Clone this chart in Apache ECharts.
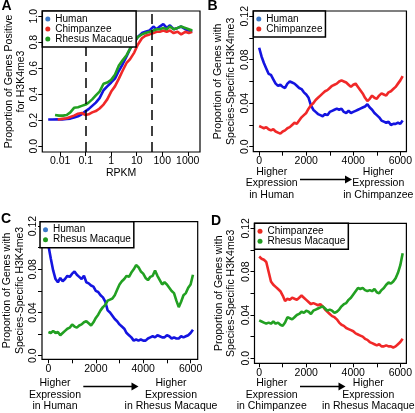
<!DOCTYPE html>
<html><head><meta charset="utf-8">
<script src="https://cdn.jsdelivr.net/npm/echarts@6/dist/echarts.min.js"></script>
<style>html,body{margin:0;padding:0;background:#fff}#c{width:415px;height:413px}</style>
</head><body><div id="c"></div><script>
// ---------- Panel A data (RPKM vs proportion positive) ----------
const rpkmHumanA = [0.0034,0.005,0.008,0.012,0.018,0.025,0.035,0.05,0.07,0.1,0.13,0.18,0.25,0.35,0.5,0.7,1,1.4,2,2.8,4,5.5,8,11,16,22,32,45,60,80,110,150,200,280,400,550,800,1100,1500];
const propHumanA = [.205,.205,.206,.205,.21,.212,.22,.23,.245,.27,.285,.31,.335,.37,.43,.46,.49,.52,.58,.63,.69,.75,.80,.84,.87,.88,.89,.92,.90,.92,.94,.91,.93,.90,.91,.92,.90,.89,.88];
const rpkmChimpA = [0.008,0.012,0.018,0.025,0.035,0.05,0.07,0.1,0.13,0.18,0.25,0.35,0.5,0.7,1,1.4,2,2.8,4,5.5,8,11,16,22,32,45,60,80,110,150,200,280,400,550,800,1100,1500];
const propChimpA = [.205,.21,.215,.225,.235,.25,.255,.24,.245,.26,.27,.29,.32,.36,.42,.46,.52,.58,.64,.67,.72,.78,.83,.85,.86,.87,.88,.88,.89,.88,.89,.87,.88,.86,.88,.87,.88];
const rpkmRhesusA = [0.0063,0.009,0.013,0.018,0.025,0.035,0.05,0.07,0.1,0.13,0.18,0.25,0.35,0.5,0.7,1,1.4,2,2.8,4,5.5,8,11,16,22,32,45,60,80,110,150,200,280,400,550,800,1100,1500];
const propRhesusA = [.24,.235,.235,.24,.26,.295,.30,.31,.32,.335,.36,.39,.42,.48,.49,.51,.55,.62,.66,.70,.75,.80,.84,.86,.87,.88,.89,.90,.90,.91,.90,.92,.90,.91,.92,.91,.90,.89];
const thresholdsRPKM = [0.1, 40];
const ticksA_x = [0.01,0.1,1,10,100,1000];
const ticksA_y = [0,0.2,0.4,0.6,0.8,1.0];

// ---------- Panels B, C, D (rank vs proportion species-specific) ----------
const rank = [0,100,200,300,400,500,600,700,800,900,1000,1100,1200,1300,1400,1500,1600,1700,1800,1900,2000,2100,2200,2300,2400,2500,2600,2700,2800,2900,3000,3100,3200,3300,3400,3500,3600,3700,3800,3900,4000,4100,4200,4300,4400,4500,4600,4700,4800,4900,5000,5100,5200,5300,5400,5500,5600,5700,5800,5900,6000,6100];
const humanB = [.091,.083,.077,.072,.067,.066,.062,.058,.056,.057,.055,.054,.058,.060,.059,.058,.056,.054,.053,.050,.048,.045,.038,.034,.032,.030,.029,.028,.030,.029,.032,.033,.034,.035,.034,.035,.032,.031,.033,.031,.032,.033,.034,.035,.036,.037,.039,.036,.034,.031,.029,.027,.024,.023,.022,.023,.020,.021,.021,.022,.021,.024];
const chimpB = [.019,.018,.017,.018,.016,.015,.016,.014,.013,.012,.014,.015,.017,.018,.020,.022,.021,.024,.027,.029,.031,.035,.038,.040,.043,.045,.047,.049,.051,.052,.054,.056,.057,.058,.060,.061,.060,.059,.057,.055,.057,.058,.055,.052,.049,.045,.042,.044,.047,.045,.044,.047,.049,.048,.047,.050,.051,.053,.055,.058,.061,.065];
const humanC = [.102,.090,.079,.071,.068,.072,.069,.071,.074,.073,.076,.078,.075,.073,.071,.074,.068,.067,.065,.064,.060,.059,.056,.054,.050,.042,.040,.037,.034,.032,.029,.027,.025,.021,.019,.017,.014,.015,.014,.015,.014,.014,.016,.017,.018,.017,.019,.018,.017,.017,.019,.018,.016,.017,.016,.016,.018,.017,.018,.019,.021,.024];
const rhesusC = [.022,.021,.023,.021,.022,.019,.021,.023,.025,.026,.029,.027,.026,.028,.029,.031,.032,.030,.028,.031,.035,.038,.042,.045,.047,.051,.052,.053,.056,.061,.066,.069,.071,.074,.073,.077,.080,.084,.082,.078,.076,.072,.070,.073,.074,.079,.074,.070,.066,.068,.066,.063,.060,.058,.051,.045,.050,.056,.058,.063,.066,.075];
const chimpD = [.094,.092,.091,.089,.080,.071,.068,.066,.064,.062,.058,.053,.055,.054,.056,.055,.054,.056,.058,.056,.054,.052,.050,.051,.050,.049,.050,.048,.045,.043,.041,.039,.038,.036,.033,.031,.030,.028,.027,.026,.025,.023,.022,.021,.020,.018,.017,.015,.014,.013,.012,.013,.011,.011,.012,.011,.011,.010,.011,.013,.015,.018];
const rhesusD = [.035,.034,.033,.032,.033,.032,.034,.032,.033,.031,.030,.033,.038,.037,.036,.038,.040,.041,.043,.042,.044,.043,.041,.044,.045,.046,.047,.048,.046,.044,.045,.044,.042,.043,.045,.048,.050,.051,.054,.056,.059,.062,.065,.064,.065,.063,.062,.063,.062,.064,.061,.060,.063,.065,.068,.070,.069,.071,.074,.079,.086,.097];
const ticksRank = [0,1000,2000,3000,4000,5000,6000];
const labelsRank = [0,2000,4000,6000];
const ticksProp = [0,0.02,0.04,0.06,0.08,0.10,0.12];
const labelsProp = [0,0.04,0.08,0.12];

const F = 'Liberation Sans, Arial, sans-serif';
const LINE = {human:'#1414e0', chimp:'#f02828', rhesus:'#22a022'};
const DOT = {human:'#3a78c8', chimp:'#e8281e', rhesus:'#1e9a1e'};

const zip = (xs, ys) => xs.map((x,i)=>[x, ys[i]]);
const lg = v => Math.log10(v);

function xAxisCfg(idx, min, max, ticks, labels, fmt, name){
  return {gridIndex: idx, type:'value', min, max, name: name||'', nameLocation:'middle', nameGap:14.5,
    nameTextStyle:{fontSize:10.5, color:'#000', fontFamily:F},
    axisLine:{show:false, onZero:false}, splitLine:{show:false},
    axisTick:{show:true, length:4, customValues: ticks, lineStyle:{color:'#000', width:1}},
    axisLabel:{show:true, customValues: labels, formatter: fmt, margin:4, fontSize:10.5, color:'#000', fontFamily:F}};
}
function yAxisCfg(idx, min, max, ticks, labels, fmt, name, gap){
  return {gridIndex: idx, type:'value', min, max, name, nameLocation:'middle', nameRotate:90, nameGap:gap,
    nameTextStyle:{fontSize:10.5, lineHeight:12.5, color:'#000', fontFamily:F},
    axisLine:{show:false, onZero:false}, splitLine:{show:false},
    axisTick:{show:true, length:4, customValues: ticks, lineStyle:{color:'#000', width:1}},
    axisLabel:{show:true, rotate:90, customValues: labels, formatter: fmt, margin:3, fontSize:10.5, color:'#000', fontFamily:F}};
}
function lineSeries(name, idx, data, color){
  return {name, type:'line', xAxisIndex:idx, yAxisIndex:idx, data, showSymbol:false, symbol:'none',
    lineStyle:{color, width:2.6}, itemStyle:{color}, animation:false};
}
function legendCfg(names, colors, left, top){
  return {orient:'vertical', left, top, itemWidth:5, itemHeight:5, itemGap:0, icon:'circle', selectedMode:false,
    data: names.map((n,i)=>({name:n, itemStyle:{color:colors[i]}})),
    textStyle:{fontSize:10, lineHeight:8.4, color:'#000', fontFamily:F},
    borderColor:'#000', borderWidth:1.5, padding:[3,3,3,3], backgroundColor:'#fff', z:10};
}
const fmtProp = v => v===0 ? '0.0' : String(+v.toFixed(2));
const fmtA = v => v.toFixed(1);
const fmtLog = v => String(+Math.pow(10, v).toPrecision(1));
const fmtRank = v => String(Math.round(v));
const YT = 'Proportion of Genes with\nSpecies-Specific H3K4me3';

function txt(text, x, y, size, weight){
  return {type:'text', z:20, style:{text, x, y, fill:'#000', font:(weight||'normal')+' '+size+'px '+F,
    textAlign:'center', align:'center', textVerticalAlign:'top', verticalAlign:'top', lineHeight:11.5}};
}
function letter(text, x, y){
  return {type:'text', z:20, style:{text, x, y, fill:'#000', font:'bold 14px '+F, textAlign:'left', align:'left', textVerticalAlign:'top', verticalAlign:'top'}};
}
function arrow(x1, x2, y){
  return [
    {type:'line', z:20, shape:{x1, y1:y, x2:x2-6, y2:y}, style:{stroke:'#000', lineWidth:1.3}},
    {type:'polygon', z:20, shape:{points:[[x2-7,y-4],[x2,y],[x2-7,y+4]]}, style:{fill:'#000'}}
  ];
}

const chart = echarts.init(document.getElementById('c'), null, {renderer:'canvas'});
const seriesA0 = lineSeries('Human', 0, zip(rpkmHumanA.map(lg), propHumanA), LINE.human);
seriesA0.markLine = {silent:true, symbol:['none','none'], label:{show:false}, animation:false,
  lineStyle:{type:[10,6], color:'#000', width:1.5}, data: thresholdsRPKM.map(t=>({xAxis: lg(t)}))};

chart.setOption({
  animation:false,
  backgroundColor:'#fff',
  grid:[
    {left:42.3, top:11, width:157.7, height:141, show:true, borderColor:'#000', borderWidth:1.2, backgroundColor:'transparent'},
    {left:253.3, top:11, width:156.2, height:140.7, show:true, borderColor:'#000', borderWidth:1.2, backgroundColor:'transparent'},
    {left:40, top:221.7, width:157.7, height:137.6, show:true, borderColor:'#000', borderWidth:1.2, backgroundColor:'transparent'},
    {left:254.5, top:223.3, width:155, height:140, show:true, borderColor:'#000', borderWidth:1.2, backgroundColor:'transparent'}
  ],
  xAxis:[
    xAxisCfg(0, -2.70, 3.48, ticksA_x.map(lg), ticksA_x.map(lg), fmtLog, 'RPKM'),
    xAxisCfg(1, -250, 6260, ticksRank, labelsRank, fmtRank),
    xAxisCfg(2, -271, 6300, ticksRank, labelsRank, fmtRank),
    xAxisCfg(3, -200, 6258, ticksRank, labelsRank, fmtRank)
  ],
  yAxis:[
    yAxisCfg(0, -0.045, 1.040, ticksA_y, ticksA_y, fmtA, 'Proportion of Genes Positive\nfor H3K4me3', 14),
    yAxisCfg(1, -0.0046, 0.1248, ticksProp, labelsProp, fmtProp, YT, 16),
    yAxisCfg(2, -0.0033, 0.1241, ticksProp, labelsProp, fmtProp, YT, 16),
    yAxisCfg(3, -0.0046, 0.1247, ticksProp, labelsProp, fmtProp, YT, 17)
  ],
  legend:[
    legendCfg(['Human','Chimpanzee','Rhesus Macaque'], [DOT.human, DOT.chimp, DOT.rhesus], 42.3, 11),
    legendCfg(['Human','Chimpanzee'], [DOT.human, DOT.chimp], 253.3, 11),
    legendCfg(['Human','Rhesus Macaque'], [DOT.human, DOT.rhesus], 40, 221.7),
    legendCfg(['Chimpanzee','Rhesus Macaque'], [DOT.chimp, DOT.rhesus], 254.5, 223.3)
  ],
  series:[
    seriesA0,
    lineSeries('Chimpanzee', 0, zip(rpkmChimpA.map(lg), propChimpA), LINE.chimp),
    lineSeries('Rhesus Macaque', 0, zip(rpkmRhesusA.map(lg), propRhesusA), LINE.rhesus),
    lineSeries('Human', 1, zip(rank, humanB), LINE.human),
    lineSeries('Chimpanzee', 1, zip(rank, chimpB), LINE.chimp),
    lineSeries('Human', 2, zip(rank, humanC), LINE.human),
    lineSeries('Rhesus Macaque', 2, zip(rank, rhesusC), LINE.rhesus),
    lineSeries('Chimpanzee', 3, zip(rank, chimpD), LINE.chimp),
    lineSeries('Rhesus Macaque', 3, zip(rank, rhesusD), LINE.rhesus)
  ],
  graphic:[
    letter('A', 1.5, -0.5), letter('B', 207.5, -0.5), letter('C', 1, 212.5), letter('D', 211, 214),
    txt('Higher\nExpression\nin Human', 271.7, 166, 10.5),
    txt('Higher\nExpression\nin Chimpanzee', 378.3, 166, 10.5),
    ...arrow(300, 352, 179.5),
    txt('Higher\nExpression\nin Human', 55, 377.6, 10.5),
    txt('Higher\nExpression\nin Rhesus Macaque', 171, 377.6, 10.5),
    ...arrow(83.3, 138.5, 386.5),
    txt('Higher\nExpression\nin Chimpanzee', 271.7, 377.6, 10.5),
    txt('Higher\nExpression\nin Rhesus Macaque', 368.3, 377.6, 10.5),
    ...arrow(300, 345.5, 386.5)
  ]
});
</script></body></html>
